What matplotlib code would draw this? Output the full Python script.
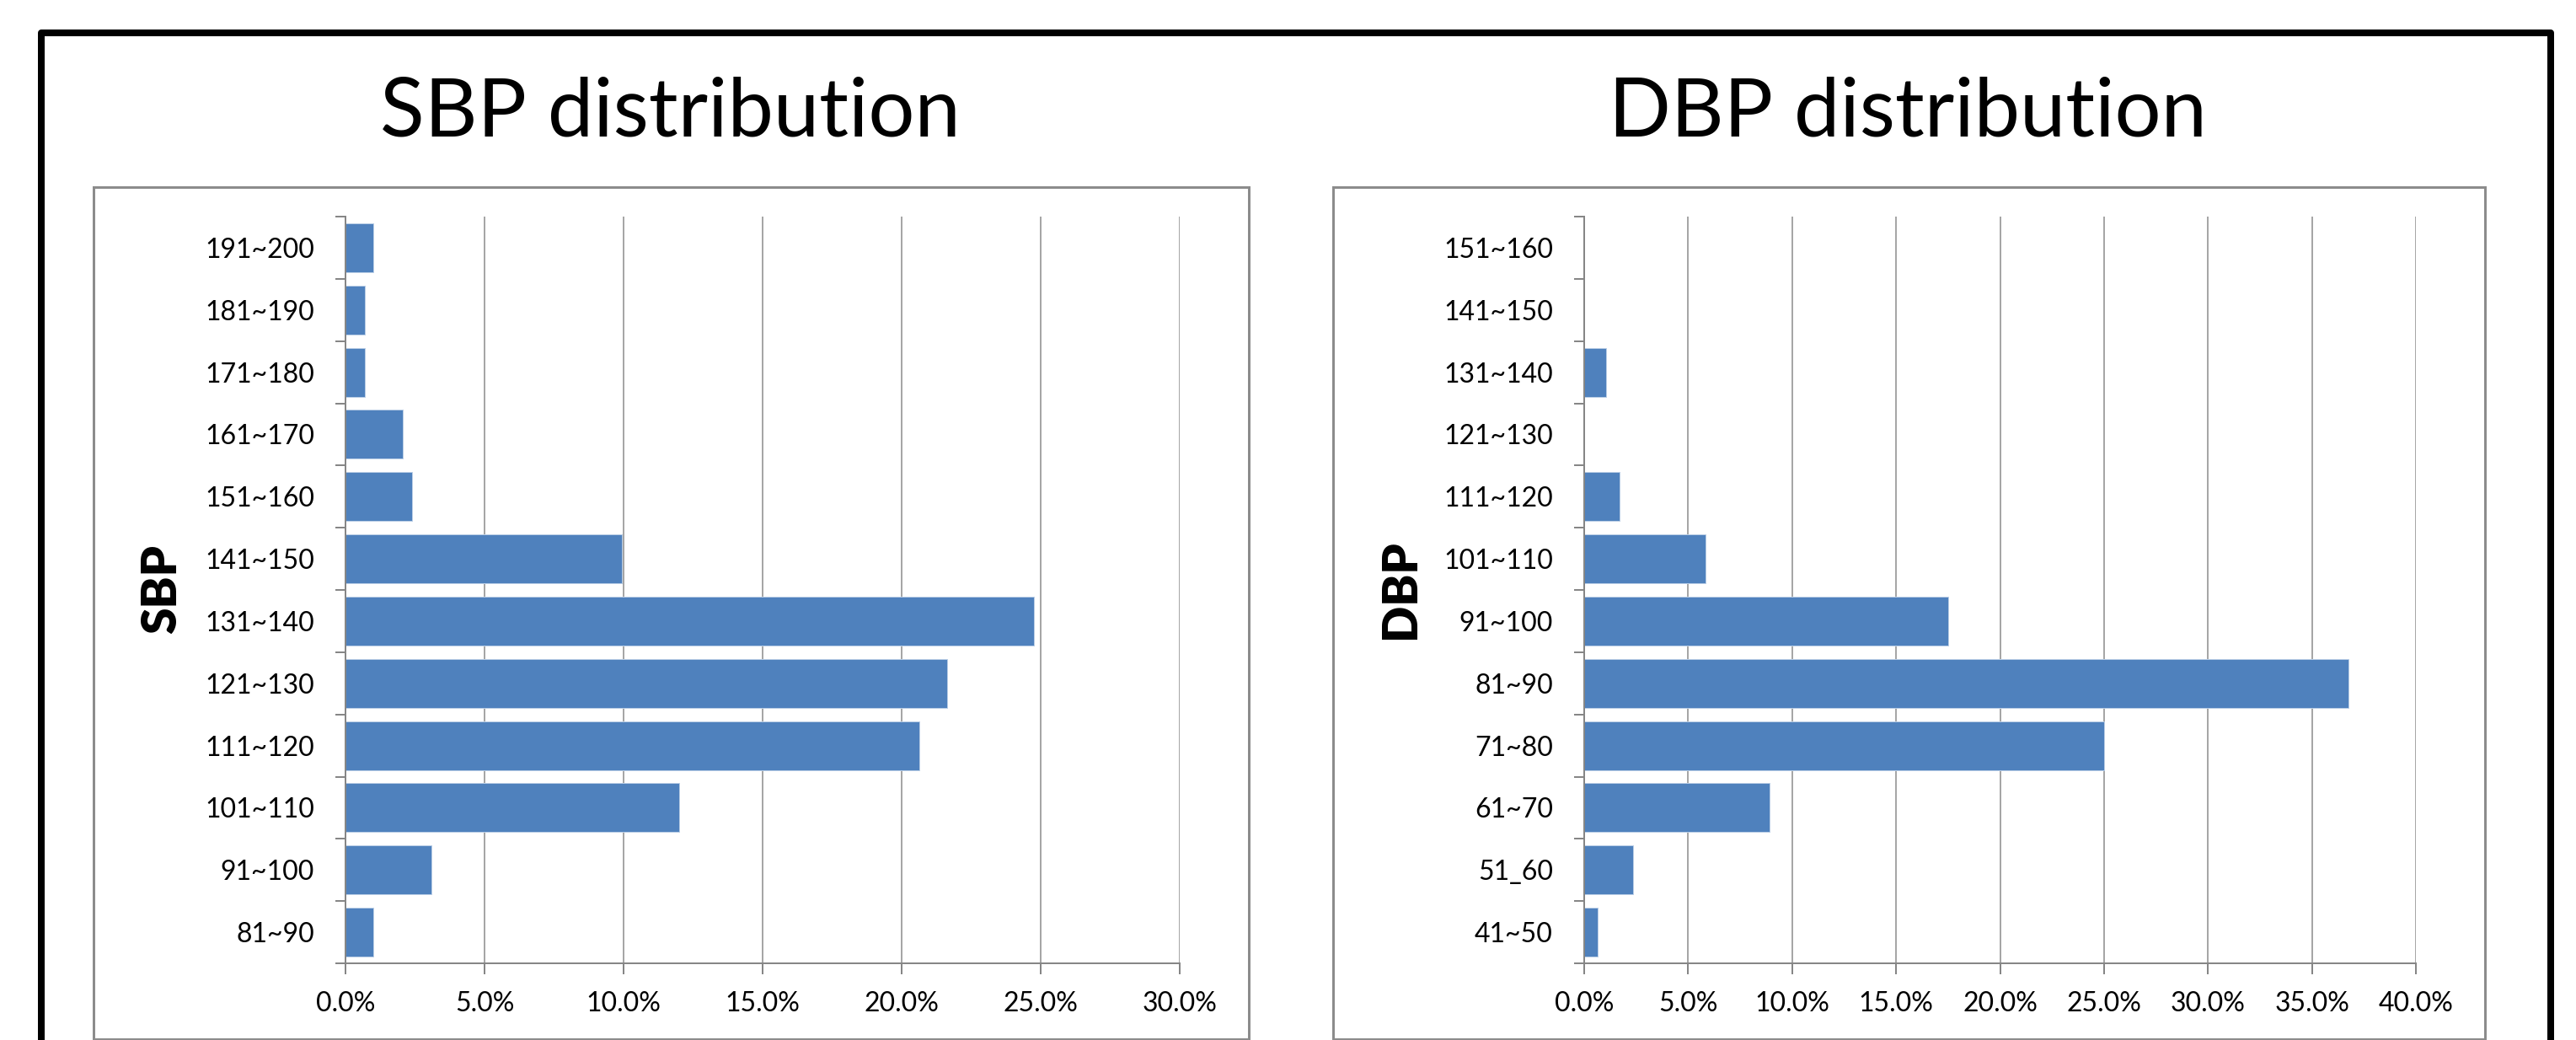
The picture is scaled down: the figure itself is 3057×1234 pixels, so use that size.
"""
Two horizontal bar charts: distribution of systolic (SBP) and
diastolic (DBP) blood pressure, drawn in an Excel-like style.
"""
import matplotlib
matplotlib.use("Agg")
import matplotlib.pyplot as plt
from matplotlib.patches import Rectangle
from matplotlib.ticker import FuncFormatter, MultipleLocator

# data, bottom category first
sbp_labels = ["81~90", "91~100", "101~110", "111~120", "121~130", "131~140",
              "141~150", "151~160", "161~170", "171~180", "181~190", "191~200"]
sbp_percent = [1.0, 3.1, 12.0, 20.65, 21.65, 24.75, 9.95, 2.4, 2.05, 0.7, 0.7, 1.0]

dbp_labels = ["41~50", "51_60", "61~70", "71~80", "81~90", "91~100",
              "101~110", "111~120", "121~130", "131~140", "141~150", "151~160"]
dbp_percent = [0.65, 2.35, 8.9, 25.0, 36.75, 17.5, 5.85, 1.7, 0.0, 1.05, 0.0, 0.0]

WIDTH, HEIGHT, DPI = 3057, 1234, 100
BAR_COLOR = "#4F81BD"
AXIS_GRAY = "#868686"
GRID_GRAY = "#A6A6A6"
FONT = "Lato"
TICK_SIZE = 23


def px(x):
    """Pixel x -> figure fraction."""
    return x / WIDTH


def py(y):
    """Pixel y (from top) -> figure fraction."""
    return 1 - y / HEIGHT


def pt(pixels):
    """Pixels -> points."""
    return pixels * 72 / DPI


def draw_chart(fig, labels, values, x_max, box, plot, title, title_x, ylabel, ylabel_x):
    """
    Draw one chart: gray frame, title, axis label and the bar plot.
    :param box: (left, top, right, bottom) of the gray frame in pixels.
    :param plot: (left, top, right, bottom) of the plot area in pixels.
    """
    left, top, right, bottom = box
    fig.patches.append(Rectangle((px(left), py(bottom)), px(right - left), (bottom - top) / HEIGHT,
                                 transform=fig.transFigure, fill=False,
                                 edgecolor="#8C8C8C", linewidth=pt(3), zorder=0))

    fig.text(px(title_x), py(134), title, ha="center", va="center",
             fontsize=70, family=FONT, color="black")
    fig.text(px(ylabel_x), py(699), ylabel, ha="center", va="center", rotation=90,
             fontsize=41, fontweight="heavy", family=FONT, color="black")

    p_left, p_top, p_right, p_bottom = plot
    ax = fig.add_axes([px(p_left), py(p_bottom), px(p_right - p_left), (p_bottom - p_top) / HEIGHT])

    positions = range(len(labels))
    ax.barh(positions, values, height=0.785, color=BAR_COLOR,
            edgecolor="#B9CDE5", linewidth=pt(1), zorder=3)

    ax.set_xlim(0, x_max)
    ax.set_ylim(-0.5, len(labels) - 0.5)

    # x axis: percentages with vertical gridlines
    ax.xaxis.set_major_locator(MultipleLocator(5))
    ax.xaxis.set_major_formatter(FuncFormatter(lambda v, _: f"{v:.1f}%"))
    ax.grid(axis="x", color=GRID_GRAY, linewidth=pt(2), zorder=0)
    ax.tick_params(axis="x", direction="out", length=pt(13), width=pt(2),
                   color=AXIS_GRAY, pad=pt(20), labelsize=TICK_SIZE)

    # y axis: labels centred on bars, tick marks on category boundaries
    ax.set_yticks(list(positions))
    ax.set_yticklabels(labels)
    ax.set_yticks([i - 0.5 for i in range(len(labels) + 1)], minor=True)
    ax.tick_params(axis="y", which="major", length=0, pad=pt(37), labelsize=TICK_SIZE)
    ax.tick_params(axis="y", which="minor", direction="out", length=pt(12),
                   width=pt(2), color=AXIS_GRAY)

    for label in ax.get_xticklabels() + ax.get_yticklabels():
        label.set_family(FONT)
        label.set_color("black")

    for side in ("top", "right"):
        ax.spines[side].set_visible(False)
    for side in ("left", "bottom"):
        ax.spines[side].set_color(AXIS_GRAY)
        ax.spines[side].set_linewidth(pt(2))
        ax.spines[side].set_zorder(4)
    return ax


def main():
    """Build both charts and save the figure."""
    fig = plt.figure(figsize=(WIDTH / DPI, HEIGHT / DPI), dpi=DPI)
    fig.patch.set_facecolor("white")

    # outer black frame (bottom edge runs off the picture)
    fig.patches.append(Rectangle((px(48.5), py(1300)), px(3027 - 48.5), (1300 - 39) / HEIGHT,
                                 transform=fig.transFigure, fill=False,
                                 edgecolor="black", linewidth=pt(8), joinstyle="round"))

    draw_chart(fig, sbp_labels, sbp_percent, 30,
               box=(111, 222, 1482, 1233), plot=(410, 257, 1400, 1143),
               title="SBP distribution", title_x=795, ylabel="SBP", ylabel_x=192)
    draw_chart(fig, dbp_labels, dbp_percent, 40,
               box=(1582, 222, 2949, 1233), plot=(1880, 257, 2867, 1143),
               title="DBP distribution", title_x=2264, ylabel="DBP", ylabel_x=1662)

    fig.savefig("out.png", dpi=DPI)


if __name__ == "__main__":
    main()
